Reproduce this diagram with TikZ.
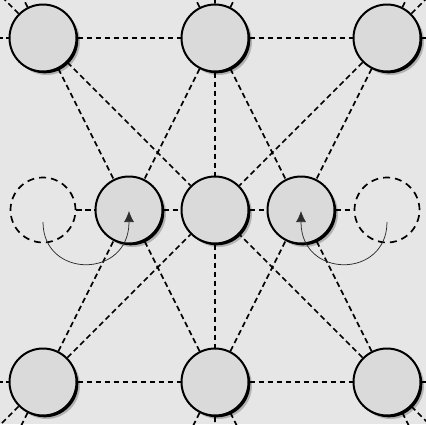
\documentclass[tikz,border=0pt]{standalone}
\usetikzlibrary{shadows,arrows.meta,calc}
\definecolor{bgcol}{RGB}{230,230,230}
\definecolor{nodefill}{RGB}{218,218,218}
\definecolor{shadowgray}{RGB}{178,178,178}
\definecolor{hopcol}{RGB}{45,45,45}
\begin{document}
\begin{tikzpicture}[x=1pt,y=-1pt,
  site/.style={circle, draw=black, line width=2pt, fill=nodefill, minimum size=67pt, inner sep=0pt,
    drop shadow={shadow xshift=3.5pt, shadow yshift=-3.5pt, fill=shadowgray, opacity=1},
    drop shadow={shadow xshift=1.8pt, shadow yshift=-1.8pt, fill=black, opacity=1}},
  ghost/.style={circle, draw=black, line width=1.7pt, dash pattern=on 7pt off 5pt, minimum size=65pt, inner sep=0pt},
  bond/.style={line width=1.7pt, dash pattern=on 5.5pt off 3.5pt},
  hop/.style={draw=hopcol, line width=0.75pt, -{Latex[length=11pt,width=10pt]}}]
\useasboundingbox (0,0) rectangle (426,424);
\clip (0,0) rectangle (426,424);
\fill[bgcol] (0,0) rectangle (426,424);
% off-picture coordinates
\coordinate (Lt) at (-129,38);
\coordinate (Rt) at (559,38);
\coordinate (Lb) at (-129,382);
\coordinate (Rb) at (559,382);
\coordinate (u1) at (-129,-134);
\coordinate (u2) at (-43,-134);
\coordinate (u3) at (129,-134);
\coordinate (u4) at (215,-134);
\coordinate (u5) at (301,-134);
\coordinate (u6) at (473,-134);
\coordinate (u7) at (559,-134);
\coordinate (d1) at (-129,554);
\coordinate (d2) at (-43,554);
\coordinate (d3) at (129,554);
\coordinate (d4) at (215,554);
\coordinate (d5) at (301,554);
\coordinate (d6) at (473,554);
\coordinate (d7) at (559,554);
% nodes
\node[site] (TL) at (43,38) {};
\node[site] (TC) at (215,38) {};
\node[site] (TR) at (387,38) {};
\node[ghost] (ML) at (43,210) {};
\node[site] (M1) at (129,210) {};
\node[site] (M2) at (215,210) {};
\node[site] (M3) at (301,210) {};
\node[ghost] (MR) at (387,210) {};
\node[site] (BL) at (43,382) {};
\node[site] (BC) at (215,382) {};
\node[site] (BR) at (387,382) {};
% bonds
\draw[bond] (Lt) -- (TL) (TL) -- (TC) (TC) -- (TR) (TR) -- (Rt);
\draw[bond] (ML) -- (M1) (M1) -- (M2) (M2) -- (M3) (M3) -- (MR);
\draw[bond] (Lb) -- (BL) (BL) -- (BC) (BC) -- (BR) (BR) -- (Rb);
\draw[bond] (TC) -- (M2) (M2) -- (BC);
\draw[bond] (TL) -- (M1) (TL) -- (M2) (TC) -- (M1) (TC) -- (M3) (TR) -- (M3) (TR) -- (M2);
\draw[bond] (BL) -- (M1) (BL) -- (M2) (BC) -- (M1) (BC) -- (M3) (BR) -- (M3) (BR) -- (M2);
\draw[bond] (TL) -- (u1) (TL) -- (u2) (TC) -- (u3) (TC) -- (u4) (TC) -- (u5) (TR) -- (u6) (TR) -- (u7);
\draw[bond] (BL) -- (d1) (BL) -- (d2) (BC) -- (d3) (BC) -- (d4) (BC) -- (d5) (BR) -- (d6) (BR) -- (d7);
% hops
\draw[hop] ($(ML)+(0,12)$) .. controls +(0,57) and +(0,57) .. ($(M1)+(0,12)$) -- ($(M1)+(0,1)$);
\draw[hop] ($(MR)+(0,12)$) .. controls +(0,57) and +(0,57) .. ($(M3)+(0,12)$) -- ($(M3)+(0,1)$);
\end{tikzpicture}
\end{document}
